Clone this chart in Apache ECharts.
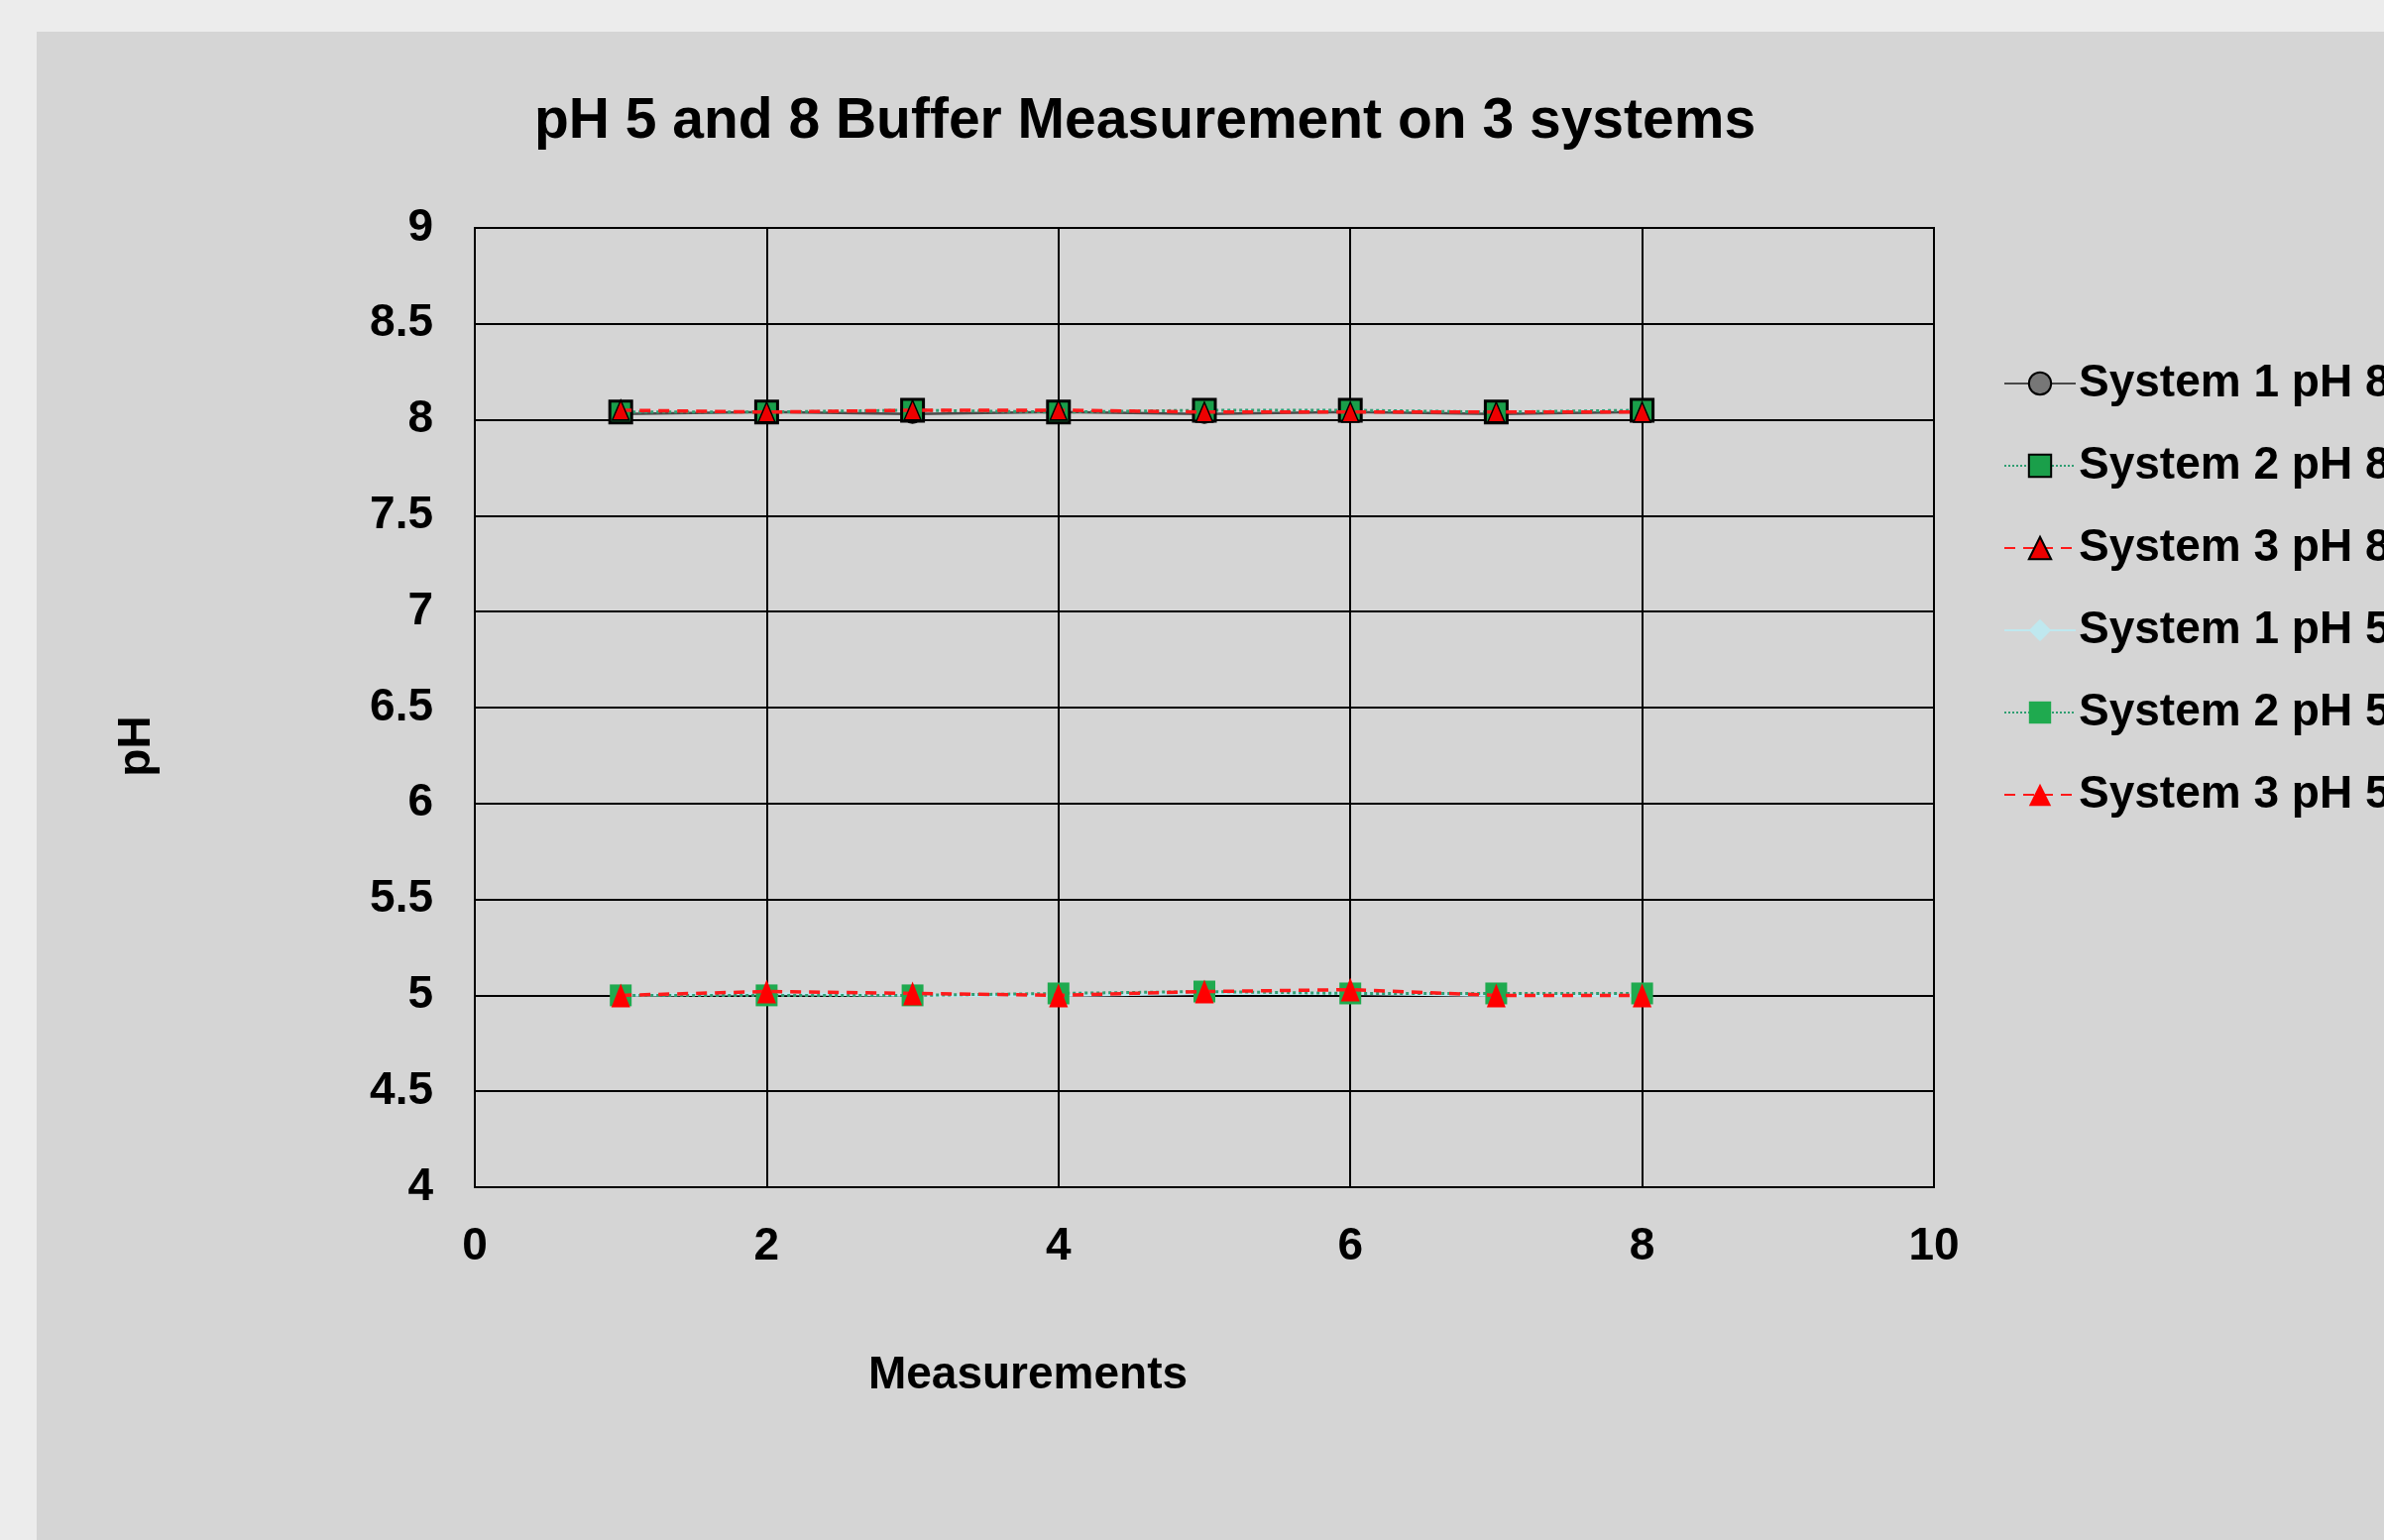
<!DOCTYPE html>
<html>
<head>
<meta charset="utf-8">
<style>
html,body{margin:0;padding:0;background:#ececec;}
#chart{width:2405px;height:1554px;}
</style>
<script src="https://cdn.jsdelivr.net/npm/echarts@6/dist/echarts.min.js"></script>
</head>
<body>
<div id="chart"></div>
<script>
var measurements = [1, 2, 3, 4, 5, 6, 7, 8];
var seriesNames = ['System 1 pH 8', 'System 2 pH 8', 'System 3 pH 8', 'System 1 pH 5', 'System 2 pH 5', 'System 3 pH 5'];
var sys1ph8 = [8.03, 8.04, 8.03, 8.04, 8.03, 8.04, 8.03, 8.04];
var sys2ph8 = [8.04, 8.04, 8.05, 8.04, 8.05, 8.05, 8.04, 8.05];
var sys3ph8 = [8.05, 8.04, 8.05, 8.05, 8.04, 8.04, 8.04, 8.04];
var sys1ph5 = [5.00, 5.01, 5.00, 5.00, 5.01, 5.01, 5.00, 5.00];
var sys2ph5 = [5.00, 5.00, 5.00, 5.01, 5.02, 5.01, 5.01, 5.01];
var sys3ph5 = [5.00, 5.02, 5.01, 5.00, 5.02, 5.03, 5.00, 5.00];
var xTicks = [0, 2, 4, 6, 8, 10];
var yTicks = [4, 4.5, 5, 5.5, 6, 6.5, 7, 7.5, 8, 8.5, 9];

function pairs(vals) { return measurements.map(function (m, i) { return [m, vals[i]]; }); }

var FONT = 'Liberation Sans, Arial, sans-serif';
var chart = echarts.init(document.getElementById('chart'));
chart.setOption({
  backgroundColor: '#ececec',
  animation: false,
  graphic: [
    { type: 'rect', z: -10, shape: { x: 37, y: 32, width: 2405, height: 1554 }, style: { fill: '#d5d5d5' } },
    { type: 'text', x: 1155, y: 123, style: { text: 'pH 5 and 8 Buffer Measurement on 3 systems', font: 'bold 57px ' + FONT, fill: '#000', align: 'center', verticalAlign: 'middle' } },
    { type: 'text', x: 1037, y: 1388, style: { text: 'Measurements', font: 'bold 46px ' + FONT, fill: '#000', align: 'center', verticalAlign: 'middle' } },
    { type: 'text', x: 138, y: 753, rotation: Math.PI / 2, style: { text: 'pH', font: 'bold 46px ' + FONT, fill: '#000', align: 'center', verticalAlign: 'middle' } }
  ],
  grid: { left: 479, top: 230, width: 1472, height: 968, show: true, borderColor: '#000', borderWidth: 2, backgroundColor: 'transparent' },
  legend: {
    orient: 'vertical', left: 2016, top: 359, itemWidth: 72, itemHeight: 28, itemGap: 37,
    selectedMode: false,
    data: seriesNames,
    textStyle: { fontFamily: FONT, fontWeight: 'bold', fontSize: 46, color: '#000', lineHeight: 46, padding: [0, 0, 0, -2] }
  },
  xAxis: {
    type: 'value', min: xTicks[0], max: xTicks[xTicks.length - 1], interval: 2,
    axisLine: { show: true, lineStyle: { color: '#000', width: 2 } },
    axisTick: { show: false },
    axisLabel: { margin: 37, fontFamily: FONT, fontWeight: 'bold', fontSize: 46, color: '#000' },
    splitLine: { show: true, lineStyle: { color: '#000', width: 2 } }
  },
  yAxis: {
    type: 'value', min: yTicks[0], max: yTicks[yTicks.length - 1], interval: 0.5,
    axisLine: { show: true, lineStyle: { color: '#000', width: 2 } },
    axisTick: { show: false },
    axisLabel: { margin: 42, padding: [10, 0, 0, 0], fontFamily: FONT, fontWeight: 'bold', fontSize: 46, color: '#000' },
    splitLine: { show: true, lineStyle: { color: '#000', width: 2 } }
  },
  series: [
    { name: seriesNames[3], type: 'line', data: pairs(sys1ph5), symbol: 'diamond', symbolSize: 20, z: 2,
      lineStyle: { color: '#bfe8ef', width: 3 }, itemStyle: { color: '#bfe8ef', borderWidth: 0 } },
    { name: seriesNames[4], type: 'line', data: pairs(sys2ph5), symbol: 'rect', symbolSize: 22, z: 3,
      lineStyle: { color: '#2f9e72', width: 3, type: 'dotted' }, itemStyle: { color: '#1faa4f', borderWidth: 0 } },
    { name: seriesNames[5], type: 'line', data: pairs(sys3ph5), symbol: 'triangle', symbolSize: [19, 24], z: 4,
      lineStyle: { color: '#ff1a1a', width: 3.5, type: [11, 8] }, itemStyle: { color: '#ff0000', borderWidth: 0 } },
    { name: seriesNames[0], type: 'line', data: pairs(sys1ph8), symbol: 'circle', symbolSize: 18, z: 5,
      lineStyle: { color: '#4a4a4a', width: 2.5 }, itemStyle: { color: '#777777', borderColor: '#000', borderWidth: 2 } },
    { name: seriesNames[1], type: 'line', data: pairs(sys2ph8), symbol: 'rect', symbolSize: 22, z: 6,
      lineStyle: { color: '#2f9e72', width: 3, type: 'dotted' }, itemStyle: { color: '#1a9f4a', borderColor: '#000', borderWidth: 3 } },
    { name: seriesNames[2], type: 'line', data: pairs(sys3ph8), symbol: 'triangle', symbolSize: [17, 20], z: 7,
      lineStyle: { color: '#ff1a1a', width: 3.5, type: [11, 8] }, itemStyle: { color: '#ee0000', borderColor: '#000', borderWidth: 1.5 } }
  ]
});
</script>
</body>
</html>
